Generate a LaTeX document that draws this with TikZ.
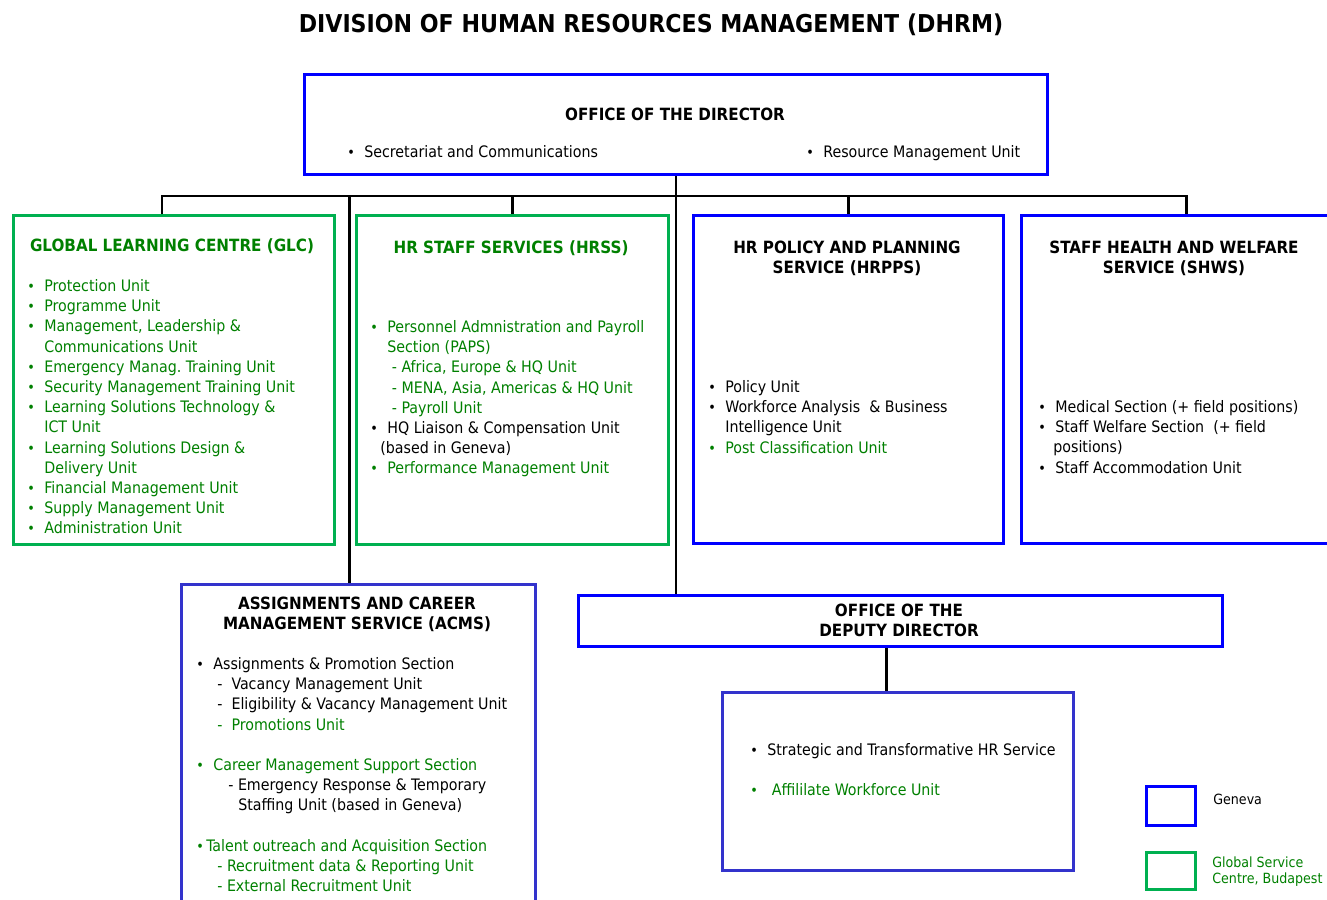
\documentclass[tikz,border=0pt]{standalone}
\usepackage{fontspec}
\setmainfont{DejaVu Sans Condensed}
\usepackage{graphicx}
\definecolor{gsc}{RGB}{0,176,80}
\definecolor{gtxt}{RGB}{0,128,0}
\definecolor{gva}{RGB}{0,0,255}
\definecolor{gvb}{RGB}{51,51,204}
\newcommand{\bul}{\makebox[3.4mm][l]{\scalebox{0.9}{•}}}
\newcommand{\ind}{\hspace*{3.4mm}}
\tikzset{
  unitbox/.style={draw=gva, line width=1.7pt, anchor=north west, inner sep=0pt},
  gscbox/.style={unitbox, draw=gsc},
  head/.style={font=\bfseries\fontsize{9.6}{11.5}\selectfont, align=center},
  items/.style={font=\fontsize{9}{11.5}\selectfont, align=left, anchor=north west, inner sep=0pt},
  link/.style={line width=1.5pt}
}

\begin{document}
\begin{tikzpicture}[x=0.2mm, y=-0.2mm]
\useasboundingbox (0,0) rectangle (1327,899);

\node[font=\bfseries\fontsize{14}{16}\selectfont] (title) at (651,25) {DIVISION OF HUMAN RESOURCES MANAGEMENT (DHRM)};

\node[unitbox, minimum width=148.6mm, minimum height=20mm] (dir) at (303,73) {};
\node[head] (dirh) at (675,114) {OFFICE OF THE DIRECTOR};
\node[items] (dira) at (347,145) {\bul Secretariat and Communications};
\node[items] (dirb) at (806,145) {\bul Resource Management Unit};

\node[gscbox, minimum width=64.2mm, minimum height=65.8mm] (glc) at (12,214) {};
\node[head, text=gtxt] (glch) at (172,246) {GLOBAL LEARNING CENTRE (GLC)};
\node[items, text=gtxt] (glcl) at (27,279) {\bul Protection Unit\\ \bul Programme Unit\\ \bul Management, Leadership \&\\ \ind Communications Unit\\ \bul Emergency Manag.\ Training Unit\\ \bul Security Management Training Unit\\ \bul Learning Solutions Technology \&\\ \ind ICT Unit\\ \bul Learning Solutions Design \&\\ \ind Delivery Unit\\ \bul Financial Management Unit\\ \bul Supply Management Unit\\ \bul Administration Unit};

\node[gscbox, minimum width=62.4mm, minimum height=65.8mm] (hrss) at (355,214) {};
\node[head, text=gtxt] (hrssh) at (511,248) {HR STAFF SERVICES (HRSS)};
\node[items, text=gtxt] (hrssl) at (370,320) {\bul Personnel Admnistration and Payroll\\ \ind Section (PAPS)\\ \ind\ - Africa, Europe \& HQ Unit\\ \ind\ - MENA, Asia, Americas \& HQ Unit\\ \ind\ - Payroll Unit\\ \textcolor{black}{\bul HQ Liaison \& Compensation Unit}\\ \textcolor{black}{\hspace*{2mm}(based in Geneva)}\\ \bul Performance Management Unit};

\node[unitbox, minimum width=62mm, minimum height=65.6mm] (hrpps) at (692,214) {};
\node[head] (hrppsh) at (847,258) {HR POLICY AND PLANNING\\SERVICE (HRPPS)};
\node[items] (hrppsl) at (708,380) {\bul Policy Unit\\ \bul Workforce Analysis \ \& Business\\ \ind Intelligence Unit\\ \textcolor{gtxt}{\bul Post Classification Unit}};

\node[unitbox, minimum width=66mm, minimum height=65.6mm] (shws) at (1020,214) {};
\node[head] (shwsh) at (1174,258) {STAFF HEALTH AND WELFARE\\SERVICE (SHWS)};
\node[items] (shwsl) at (1038,400) {\bul Medical Section (+ field positions)\\ \bul Staff Welfare Section \ (+ field\\ \hspace*{3mm}positions)\\ \bul Staff Accommodation Unit};

\node[unitbox, draw=gvb, minimum width=70.8mm, minimum height=68mm] (acms) at (180,583) {};
\node[head] (acmsh) at (357,614) {ASSIGNMENTS AND CAREER\\MANAGEMENT SERVICE (ACMS)};
\node[items] (acmsl) at (196,657) {\bul Assignments \& Promotion Section\\ \hspace*{4.2mm}-\ \ Vacancy Management Unit\\ \hspace*{4.2mm}-\ \ Eligibility \& Vacancy Management Unit\\ \textcolor{gtxt}{\hspace*{4.2mm}-\ \ Promotions Unit}\\ \mbox{}\\ \textcolor{gtxt}{\bul Career Management Support Section}\\ \hspace*{6.4mm}- Emergency Response \& Temporary\\ \hspace*{8.4mm}Staffing Unit (based in Geneva)\\ \mbox{}\\ \textcolor{gtxt}{\makebox[2mm][l]{\scalebox{0.9}{•}}Talent outreach and Acquisition Section}\\ \textcolor{gtxt}{\hspace*{4.2mm}- Recruitment data \& Reporting Unit}\\ \textcolor{gtxt}{\hspace*{4.2mm}- External Recruitment Unit}};

\node[unitbox, minimum width=128.8mm, minimum height=10.2mm] (dep) at (577,594) {};
\node[head] (deph) at (899,620) {OFFICE OF THE\\DEPUTY DIRECTOR};

\node[unitbox, draw=gvb, minimum width=70.2mm, minimum height=35.6mm] (str) at (721,691) {};
\node[items] (strl) at (750,743) {\bul Strategic and Transformative HR Service\\ \mbox{}\\ \textcolor{gtxt}{\bul\ Affililate Workforce Unit}};

\node[unitbox, minimum width=9.8mm, minimum height=7.8mm] (keygva) at (1145,785) {};
\node[items, font=\fontsize{8}{9.5}\selectfont] (keygvat) at (1213,794) {Geneva};
\node[gscbox, minimum width=9.8mm, minimum height=7.4mm] (keygsc) at (1145,851) {};
\node[items, text=gtxt, font=\fontsize{8}{9.5}\selectfont] (keygsct) at (1212,856) {Global Service\\Centre, Budapest};

\coordinate (bus) at (679,196);
\draw[link] (dir.south) -- (dir.south |- dep.north);
\draw[link] ([xshift=-2.4mm]glc.north) |- (bus) -| (shws.north);
\draw[link] (hrss.north) -- (hrss.north |- bus);
\draw[link] (hrpps.north) -- (hrpps.north |- bus);
\draw[link] ([xshift=-1.8mm]acms.north) -- ([xshift=-1.8mm]acms.north |- bus);
\draw[link] ([xshift=-2.8mm]dep.south) -- ([xshift=-2.8mm]dep.south |- str.north);

\end{tikzpicture}
\end{document}
